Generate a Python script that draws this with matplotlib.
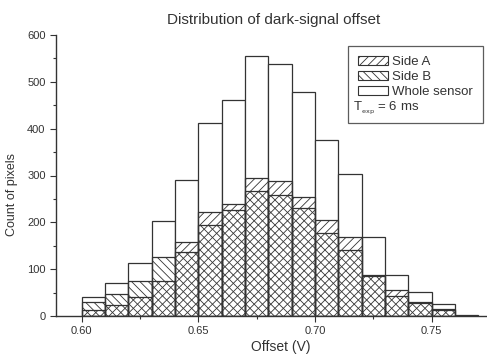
import matplotlib
matplotlib.use("Agg")
import matplotlib.pyplot as plt
from matplotlib.patches import Patch
from matplotlib.ticker import MultipleLocator

plt.rcParams['font.family'] = ['Liberation Sans', 'DejaVu Sans']
plt.rcParams['hatch.linewidth'] = 0.6

bin_left = [0.60, 0.61, 0.62, 0.63, 0.64, 0.65, 0.66, 0.67, 0.68, 0.69,
            0.70, 0.71, 0.72, 0.73, 0.74, 0.75, 0.76]
whole = [40, 71, 113, 203, 291, 413, 462, 556, 539, 478, 375, 303, 169, 88, 51, 26, 2]
side_a = [13, 23, 40, 75, 157, 222, 239, 294, 289, 255, 205, 168, 87, 55, 29, 14, 1]
side_b = [30, 47, 75, 127, 137, 194, 226, 266, 259, 230, 177, 141, 86, 43, 27, 12, 1]
bin_width = 0.01

C = '#333333'
fig = plt.figure(figsize=(4.87, 3.56), dpi=100)
ax = fig.add_axes([56/487, 1-316/356, 1-56/487, (316-35)/356])

ax.bar(bin_left, whole, width=bin_width, align='edge', facecolor='white',
       edgecolor=C, linewidth=0.9, zorder=1)
ax.bar(bin_left, side_a, width=bin_width, align='edge', facecolor='none',
       edgecolor=C, hatch='////', linewidth=0.9, zorder=2)
ax.bar(bin_left, side_b, width=bin_width, align='edge', facecolor='none',
       edgecolor=C, hatch='\\\\\\\\', linewidth=0.9, zorder=3)

ax.set_xlim(0.589, 0.7737)
ax.set_ylim(0, 600)
ax.spines['top'].set_visible(False)
ax.spines['right'].set_visible(False)
for s in ('left', 'bottom'):
    ax.spines[s].set_linewidth(1.0)
    ax.spines[s].set_color(C)
ax.xaxis.set_minor_locator(MultipleLocator(0.025))
ax.yaxis.set_major_locator(MultipleLocator(100))
ax.yaxis.set_minor_locator(MultipleLocator(50))
ax.set_xticks([0.60, 0.65, 0.70, 0.75])
ax.set_xticklabels(['0.60', '0.65', '0.70', '0.75'])
ax.tick_params(axis='both', which='major', length=4, width=0.8, labelsize=8,
               colors=C, direction='out')
ax.tick_params(axis='both', which='minor', length=2.5, width=0.8, colors=C,
               direction='out')

ax.set_xlabel('Offset (V)', fontsize=10, color=C)
ax.xaxis.set_label_coords((281-56)/431, 1-(340-35)/281)
ax.set_ylabel('Count of pixels', fontsize=9, color=C)
ax.yaxis.set_label_coords((18-56)/431, 1-(195-35)/281)
fig.text(274/487, 1-20/356, 'Distribution of dark-signal offset', ha='center',
         va='center', fontsize=11, color=C)

handles = [Patch(facecolor='white', edgecolor=C, hatch='////', linewidth=0.8),
           Patch(facecolor='white', edgecolor=C, hatch='\\\\\\\\', linewidth=0.8),
           Patch(facecolor='white', edgecolor=C, linewidth=0.8),
           Patch(facecolor='none', edgecolor='none')]
labels = ['Side A', 'Side B', 'Whole sensor', ' ']
leg = ax.legend(handles, labels, loc='upper left',
                bbox_to_anchor=((348-56)/431, 1-(46-35)/281),
                fontsize=9.5, frameon=True, fancybox=False, handlelength=2.3,
                handleheight=0.7, handletextpad=0.3, labelspacing=0.2,
                borderpad=0.75, borderaxespad=0)
leg.get_frame().set_edgecolor(C)
leg.get_frame().set_linewidth(0.9)
for t in leg.get_texts():
    t.set_color(C)
fig.text(353/487, 1-108/356, r'T$_{_{\mathrm{exp}}}$ = 6 ms', ha='left', va='center',
         fontsize=9.5, color=C)

fig.savefig('out.png', dpi=100)
